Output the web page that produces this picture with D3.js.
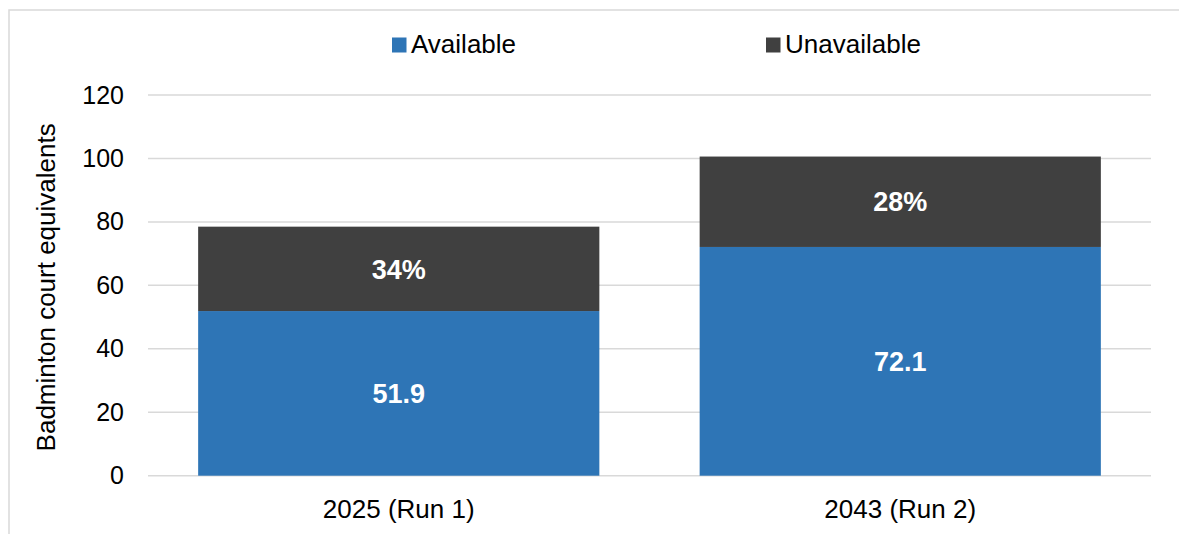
<!DOCTYPE html>
<html>
<head>
<meta charset="utf-8">
<script src="https://cdn.jsdelivr.net/npm/d3@7"></script>
<style>
  body { margin: 0; background: #fff; }
  svg text { font-family: "Liberation Sans", Arial, sans-serif; }
</style>
</head>
<body>
<div id="chart"></div>
<script>
var width = 1179,
    height = 534;

// data
var categories = ["2025 (Run 1)", "2043 (Run 2)"];
var available = [51.9, 72.1];
var unavailable = [26.6, 28.5];
var seriesNames = ["Available", "Unavailable"];
var seriesColors = ["#2E75B6", "#404040"];
var yTicks = [0, 20, 40, 60, 80, 100, 120];

var plotLeft = 148, plotRight = 1151,
    plotTop = 95, plotBottom = 475.7;

var x = d3.scaleBand()
  .domain(categories)
  .range([plotLeft, plotRight])
  .paddingInner(0.2)
  .paddingOuter(0.1);

var y = d3.scaleLinear()
  .domain([0, 120])
  .range([plotBottom, plotTop]);

var svg = d3.select("#chart")
  .append("svg")
  .attr("width", width)
  .attr("height", height);

// chart border (runs off right and bottom)
svg.append("rect")
  .attr("x", 9)
  .attr("y", 10)
  .attr("width", 1300)
  .attr("height", 700)
  .style("fill", "none")
  .style("stroke", "#d9d9d9")
  .style("stroke-width", "1.5px");

// gridlines
svg.append("g")
  .selectAll("line")
  .data(yTicks)
  .enter().append("line")
  .attr("x1", plotLeft)
  .attr("x2", plotRight)
  .attr("y1", function(d) { return y(d); })
  .attr("y2", function(d) { return y(d); })
  .style("stroke", "#d9d9d9")
  .style("stroke-width", "1.5px");

// y axis labels
var yAxis = d3.axisLeft(y)
  .tickValues(yTicks)
  .tickSize(0)
  .tickPadding(24);

var yg = svg.append("g")
  .attr("transform", "translate(" + plotLeft + ",0)")
  .call(yAxis);
yg.select(".domain").remove();
yg.selectAll("text")
  .style("font-size", "25px")
  .style("fill", "#000");

// y axis title
svg.append("text")
  .attr("transform", "translate(55," + ((plotTop + plotBottom) / 2 + 2) + ") rotate(-90)")
  .attr("text-anchor", "middle")
  .style("font-size", "26px")
  .style("fill", "#000")
  .text("Badminton court equivalents");

// bars
var rows = categories.map(function(c, i) {
  return { cat: c, available: available[i], unavailable: unavailable[i] };
});
var stack = d3.stack().keys(["available", "unavailable"]);
var layers = stack(rows);

svg.append("g")
  .selectAll("g")
  .data(layers)
  .enter().append("g")
  .style("fill", function(d, i) { return seriesColors[i]; })
  .selectAll("rect")
  .data(function(d) { return d; })
  .enter().append("rect")
  .attr("x", function(d) { return x(d.data.cat); })
  .attr("width", x.bandwidth())
  .attr("y", function(d) { return y(d[1]); })
  .attr("height", function(d) { return y(d[0]) - y(d[1]); });

// bar labels
var fmt = d3.format(".1f");
layers.forEach(function(layer, li) {
  svg.append("g")
    .selectAll("text")
    .data(layer)
    .enter().append("text")
    .attr("x", function(d) { return x(d.data.cat) + x.bandwidth() / 2; })
    .attr("y", function(d) { return (y(d[0]) + y(d[1])) / 2; })
    .attr("dy", "0.36em")
    .attr("text-anchor", "middle")
    .style("font-size", "27px")
    .style("font-weight", "bold")
    .style("fill", "#fff")
    .text(function(d) {
      if (li === 0) return fmt(d.data.available);
      var total = d.data.available + d.data.unavailable;
      return Math.round(d.data.unavailable / total * 100) + "%";
    });
});

// x axis labels
svg.append("g")
  .selectAll("text")
  .data(categories)
  .enter().append("text")
  .attr("x", function(d) { return x(d) + x.bandwidth() / 2; })
  .attr("y", 518)
  .attr("text-anchor", "middle")
  .style("font-size", "26px")
  .style("fill", "#000")
  .text(function(d) { return d; });

// legend
var legendX = [392, 766];
var legend = svg.append("g")
  .selectAll("g")
  .data(seriesNames)
  .enter().append("g")
  .attr("transform", function(d, i) { return "translate(" + legendX[i] + ",0)"; });

legend.append("rect")
  .attr("x", 0)
  .attr("y", 37.5)
  .attr("width", 14.5)
  .attr("height", 15)
  .style("fill", function(d, i) { return seriesColors[i]; });

legend.append("text")
  .attr("x", 19)
  .attr("y", 52.5)
  .style("font-size", "26px")
  .style("fill", "#000")
  .text(function(d) { return d; });
</script>
</body>
</html>
